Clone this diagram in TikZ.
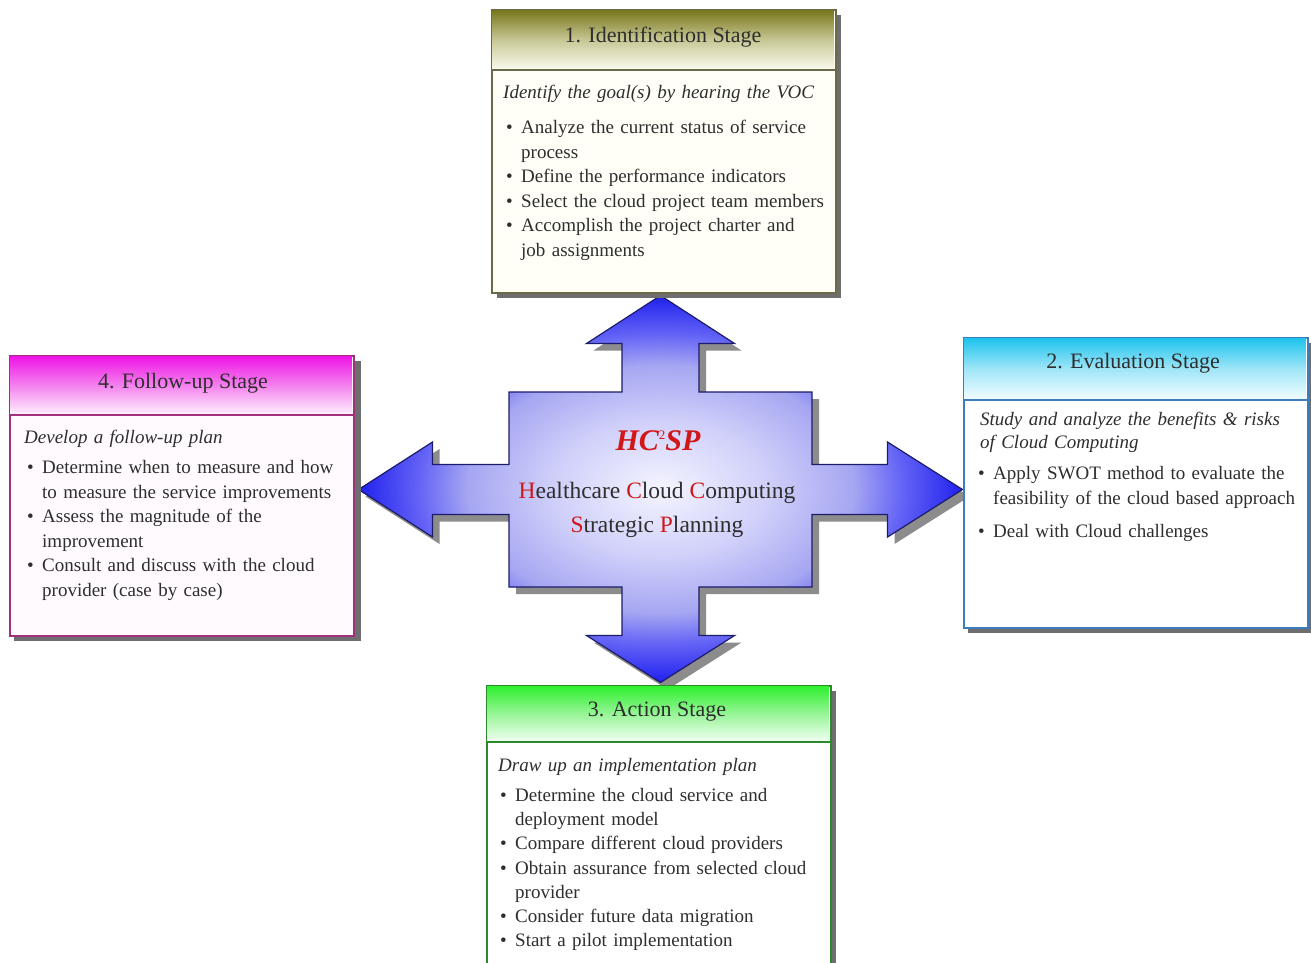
\documentclass[tikz,border=0pt]{standalone}
\usepackage{fontspec}
\setmainfont{Liberation Serif}
\usetikzlibrary{calc}
\definecolor{txt}{HTML}{2E2E2E}
\definecolor{hcred}{HTML}{D01818}
\definecolor{boxshadow}{HTML}{6E6E6E}
\definecolor{crossshadow}{HTML}{8C8C8C}
\definecolor{crossline}{HTML}{1C1C6A}
\definecolor{crA}{HTML}{F4F4FF}
\definecolor{crB}{HTML}{CFCFFA}
\definecolor{crC}{HTML}{A6A6F2}
\definecolor{crD}{HTML}{6464F6}
\definecolor{crE}{HTML}{2020EE}
\definecolor{idtop}{HTML}{77771C}
\definecolor{idmid}{HTML}{C8C896}
\definecolor{idbot}{HTML}{FBFBF0}
\definecolor{idframe}{HTML}{6A6A48}
\definecolor{idbody}{HTML}{FFFFF8}
\definecolor{futop}{HTML}{EE14E6}
\definecolor{fumid}{HTML}{F482EE}
\definecolor{fubot}{HTML}{FFF4FD}
\definecolor{fuframe}{HTML}{A3307C}
\definecolor{fubody}{HTML}{FFFAFE}
\definecolor{evtop}{HTML}{1EC3EE}
\definecolor{evmid}{HTML}{A0E6F7}
\definecolor{evbot}{HTML}{F4FDFF}
\definecolor{evframe}{HTML}{3E7DBD}
\definecolor{evbody}{HTML}{FFFFFF}
\definecolor{actop}{HTML}{2FF02F}
\definecolor{acmid}{HTML}{98F598}
\definecolor{acbot}{HTML}{F4FFF4}
\definecolor{acframe}{HTML}{2C8A2C}
\definecolor{acbody}{HTML}{FFFFFF}
\pgfdeclareradialshading{crossshade}{\pgfpoint{0bp}{0bp}}{color(0bp)=(crA); color(9bp)=(crB); color(16bp)=(crC); color(20bp)=(crD); color(25bp)=(crE); color(50bp)=(crE)}
\newcommand{\bul}{\makebox[15pt][l]{\textbullet}}
\newcommand{\cont}{\hspace*{15pt}}
\newcommand{\redL}[1]{\textcolor{hcred}{#1}}
\tikzset{
  stagebox/.style={draw=#1, line width=2.2pt, minimum width=344pt, anchor=north west, inner sep=0pt},
  stagetitle/.style={font=\fontsize{22pt}{26pt}\selectfont, text=txt, inner sep=0pt},
  bodytext/.style={font=\fontsize{19pt}{24.6pt}\selectfont, text=txt, inner sep=0pt, anchor=base west, align=left, text width=340pt},
  goaltext/.style={bodytext, font=\fontsize{19pt}{23pt}\selectfont\itshape},
}
\begin{document}
\begin{tikzpicture}[x=1pt,y=-1pt]
\useasboundingbox (0,0) rectangle (1311,962);
\clip (0,0) rectangle (1311,962);
\fill[white] (0,0) rectangle (1311,962);

% ---------- central cross ----------
\begin{scope}[shift={(660.5,489.5)}]
\fill[crossshadow] [shift={(7,7)}]
  (0,-194) -- (74,-146) -- (38.5,-146) -- (38.5,-97.5) -- (151.5,-97.5) -- (151.5,-25) -- (227,-25) -- (227,-47.5) -- (302,0) -- (227,47.5) -- (227,25) -- (151.5,25) -- (151.5,97.5) -- (38.5,97.5) -- (38.5,146) -- (74,146) -- (0,193) -- (-74,146) -- (-38.5,146) -- (-38.5,97.5) -- (-151.5,97.5) -- (-151.5,25) -- (-228,25) -- (-228,47.5) -- (-302,0) -- (-228,-47.5) -- (-228,-25) -- (-151.5,-25) -- (-151.5,-97.5) -- (-38.5,-97.5) -- (-38.5,-146) -- (-74,-146) -- cycle;
\shadedraw[shading=crossshade, draw=crossline, line width=1.2pt]
  (0,-194) -- (74,-146) -- (38.5,-146) -- (38.5,-97.5) -- (151.5,-97.5) -- (151.5,-25) -- (227,-25) -- (227,-47.5) -- (302,0) -- (227,47.5) -- (227,25) -- (151.5,25) -- (151.5,97.5) -- (38.5,97.5) -- (38.5,146) -- (74,146) -- (0,193) -- (-74,146) -- (-38.5,146) -- (-38.5,97.5) -- (-151.5,97.5) -- (-151.5,25) -- (-228,25) -- (-228,47.5) -- (-302,0) -- (-228,-47.5) -- (-228,-25) -- (-151.5,-25) -- (-151.5,-97.5) -- (-38.5,-97.5) -- (-38.5,-146) -- (-74,-146) -- cycle;
\end{scope}
\node[font=\fontsize{30pt}{34pt}\selectfont\bfseries\itshape, text=hcred, inner sep=0pt] (hcsp) at (658,441) {HC\raisebox{11pt}{\fontsize{13pt}{13pt}\selectfont\mdseries\upshape 2}SP};
\node[font=\fontsize{23.5pt}{34pt}\selectfont, text=txt, align=center, inner sep=0pt] (hcname) at (657,510) {\redL{H}ealthcare \redL{C}loud \redL{C}omputing\\\redL{S}trategic \redL{P}lanning};

% ---------- 1. Identification ----------
\fill[boxshadow] (497,15) rectangle (841,298);
\node[stagebox=idframe, fill=idbody, minimum height=283pt] (idbox) at (491,9) {};
\shade[top color=idtop, bottom color=idbot, middle color=idmid] (492.1,10.1) rectangle (833.9,70);
\draw[idframe, line width=2.2pt] (idbox.west |- 0,70) -- (idbox.east |- 0,70);
\node[stagetitle] (idtitle) at (663,37) {1. Identification Stage};
\node[goaltext] (idgoal) at (503,98.5) {Identify the goal(s) by hearing the VOC};
\node[bodytext] (iditems) at (506,133.5) {\noindent\bul Analyze the current status of service\\\cont process\\\bul Define the performance indicators\\\bul Select the cloud project team members\\\bul Accomplish the project charter and\\\cont job assignments};

% ---------- 4. Follow-up ----------
\fill[boxshadow] (14,361) rectangle (361,641);
\node[stagebox=fuframe, fill=fubody, minimum height=280pt] (fubox) at (9,355) {};
\shade[top color=futop, bottom color=fubot, middle color=fumid] (10.1,356.1) rectangle (351.9,415);
\draw[fuframe, line width=2.2pt] (fubox.west |- 0,415) -- (fubox.east |- 0,415);
\node[stagetitle] (futitle) at (183,383) {4. Follow-up Stage};
\node[goaltext] (fugoal) at (24,443.5) {Develop a follow-up plan};
\node[bodytext] (fuitems) at (27,473.5) {\noindent\bul Determine when to measure and how\\\cont to measure the service improvements\\\bul Assess the magnitude of the\\\cont improvement\\\bul Consult and discuss with the cloud\\\cont provider (case by case)};

% ---------- 2. Evaluation ----------
\fill[boxshadow] (968,343) rectangle (1311,633);
\node[stagebox=evframe, fill=evbody, minimum height=290pt] (evbox) at (963,337) {};
\shade[top color=evtop, bottom color=evbot, middle color=evmid] (964.1,338.1) rectangle (1305.9,400);
\draw[evframe, line width=2.2pt] (evbox.west |- 0,400) -- (evbox.east |- 0,400);
\node[stagetitle] (evtitle) at (1133,363) {2. Evaluation Stage};
\node[goaltext] (evgoal) at (980,425.5) {Study and analyze the benefits \& risks\\of Cloud Computing};
\node[bodytext] (evitems) at (978,479.5) {\noindent\bul Apply SWOT method to evaluate the\\\cont feasibility of the cloud based approach\\[8.4pt]\bul Deal with Cloud challenges};

% ---------- 3. Action ----------
\fill[boxshadow] (491,691) rectangle (836,990);
\node[stagebox=acframe, fill=acbody, minimum height=300pt] (acbox) at (486,685) {};
\shade[top color=actop, bottom color=acbot, middle color=acmid] (487.1,686.1) rectangle (828.9,742);
\draw[acframe, line width=2.2pt] (acbox.west |- 0,742) -- (acbox.east |- 0,742);
\node[stagetitle] (actitle) at (657,712) {3. Action Stage};
\node[goaltext] (acgoal) at (498,771.5) {Draw up an implementation plan};
\node[bodytext, font=\fontsize{19pt}{24.2pt}\selectfont] (acitems) at (500,801.5) {\noindent\bul Determine the cloud service and\\\cont deployment model\\\bul Compare different cloud providers\\\bul Obtain assurance from selected cloud\\\cont provider\\\bul Consider future data migration\\\bul Start a pilot implementation};
\end{tikzpicture}
\end{document}
